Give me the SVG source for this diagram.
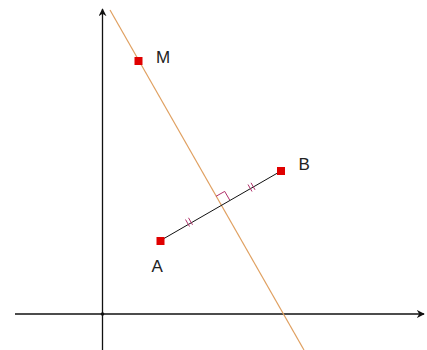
<svg xmlns="http://www.w3.org/2000/svg" width="427" height="350" viewBox="0 0 427 350">
<defs>
<style>
.axis{stroke:#111;stroke-width:1.3;fill:none}
.med{stroke:#e0a060;stroke-width:1.2;fill:none}
.seg{stroke:#111;stroke-width:1;fill:none}
.mark{stroke:#b0306a;stroke-width:1;fill:none}
.pt{fill:#e00000}
.lbl{font-family:"Liberation Sans",Arial,sans-serif;font-size:17px;fill:#222}
</style>
<marker id="arr" viewBox="0 0 10 10" refX="9" refY="5" markerWidth="8" markerHeight="8" markerUnits="userSpaceOnUse" orient="auto">
<path d="M0,0 L10,5 L0,10 L3,5 Z" fill="#111"/>
</marker>
</defs>
<rect width="427" height="350" fill="#fff"/>
<g id="connectors">
<line class="axis" x1="15" y1="314" x2="424" y2="314" marker-end="url(#arr)"/>
<line class="axis" x1="102.5" y1="350" x2="102.5" y2="9" marker-end="url(#arr)"/>
<circle cx="102.5" cy="314" r="1.8" fill="#111"/>
<line class="med" x1="110" y1="10" x2="304" y2="350"/>
<line class="seg" x1="160.5" y1="240.5" x2="281" y2="171"/>
<polyline class="mark" points="216,196.3 224.7,191.4 229.7,200"/>
<g class="mark">
<line x1="185.5" y1="219.5" x2="189.5" y2="226.5"/>
<line x1="188.5" y1="217.8" x2="192.5" y2="224.8"/>
<line x1="248" y1="184.5" x2="252" y2="191.5"/>
<line x1="251" y1="182.8" x2="255" y2="189.8"/>
</g>
</g>
<g id="M"><rect class="pt" x="134.5" y="57" width="8" height="8"/><text class="lbl" x="156" y="63">M</text></g>
<g id="A"><rect class="pt" x="156.5" y="237" width="8" height="8"/><text class="lbl" x="151.5" y="272">A</text></g>
<g id="B"><rect class="pt" x="277" y="167" width="8" height="8"/><text class="lbl" x="298.5" y="170">B</text></g>
</svg>
